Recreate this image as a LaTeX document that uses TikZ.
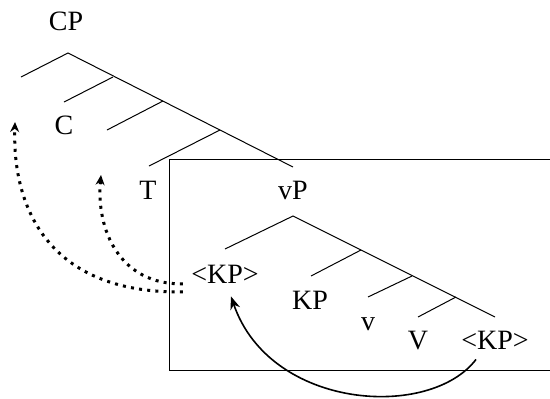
\documentclass[tikz,border=0pt]{standalone}
\usepackage{fontspec}
\setmainfont{Liberation Serif}
\usetikzlibrary{arrows.meta,calc}

\begin{document}
\begin{tikzpicture}[x=0.5pt, y=-0.5pt,
  lbl/.style={anchor=base, inner sep=2pt, font=\fontsize{14}{16}\selectfont},
  branch/.style={line width=0.5pt},
  move/.style={-{Stealth[length=6.5pt,width=5pt]}, line width=0.8pt},
  raise/.style={-{Stealth[length=5pt,width=4.5pt]}, line width=1.5pt,
    dash pattern=on 1.5pt off 2.6pt}
]
\useasboundingbox (0,0) rectangle (550,398);

% labels
\node[lbl] (cp)  at (66,30)   {CP};
\node[lbl] (c)   at (64,134)  {C};
\node[lbl] (t)   at (148,199) {T};
\node[lbl] (vp)  at (293,199) {vP};
\node[lbl] (kpl) at (225,283) {<KP>};
\node[lbl] (kp)  at (310,309) {KP};
\node[lbl] (lv)  at (368,330) {v};
\node[lbl] (uv)  at (418,349) {V};
\node[lbl] (kpr) at (495,349) {<KP>};

% upper tree
\coordinate (cpTop) at (68,53);
\coordinate (cpL)   at (21,77);
\coordinate (cpEnd) at (293,167);
\coordinate (b1) at (113,77);  \coordinate (b1L) at (64,102);
\coordinate (b2) at (163,101); \coordinate (b2L) at (107,130);
\coordinate (b3) at (220,130); \coordinate (b3L) at (149,166);
\draw[branch] (cpL) -- (cpTop) -- (cpEnd);
\draw[branch] (b1) -- (b1L);
\draw[branch] (b2) -- (b2L);
\draw[branch] (b3) -- (b3L);

% vP box
\draw[branch] (550,159) -| (169,370) -- (550,370);

% lower tree
\coordinate (vpTop) at (293,216);
\coordinate (vpL)   at (225,249);
\coordinate (vpEnd) at (495,317);
\coordinate (d1) at (361,250); \coordinate (d1L) at (311,276);
\coordinate (d2) at (412,276); \coordinate (d2L) at (368,297);
\coordinate (d3) at (456,297); \coordinate (d3L) at (418,317);
\draw[branch] (vpL) -- (vpTop) -- (vpEnd);
\draw[branch] (d1) -- (d1L);
\draw[branch] (d2) -- (d2L);
\draw[branch] (d3) -- (d3L);

% movement
\coordinate (toC) at (15,122);
\coordinate (toT) at (101,175);
\draw[move] ($(kpr.south)+(-19,6)$) .. controls (430,420) and (270,410) .. ($(kpl.south)+(6,9)$);
\draw[raise] ($(kpl.west)+(-4,18)$) .. controls (55,294) and (12,215) .. (toC);
\draw[raise] ($(kpl.west)+(-4,10)$) .. controls (120,285) and (96,230) .. (toT);

\end{tikzpicture}
\end{document}
